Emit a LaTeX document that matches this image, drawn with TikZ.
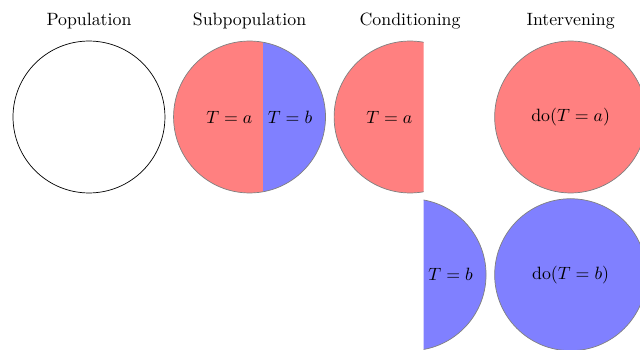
\documentclass[tikz,border=0pt]{standalone}
\usetikzlibrary{positioning}
\usepackage{xcolor}
\definecolor{groupred}{RGB}{255,128,128}
\definecolor{groupblue}{RGB}{128,128,255}

\begin{document}
\begin{tikzpicture}[
  disc/.style={circle, minimum size=3cm, inner sep=0pt},
  title/.style={anchor=base}
]
  % Define dimensions
  \def\rad{1.5}    % circle radius
  \def\cut{0.267}  % offset of the split line from the centre

  % ---- Frame ----
  \useasboundingbox (-1.757,-4.581) rectangle (10.88,2.31);
  \clip (-1.757,-4.581) rectangle (10.88,2.31);

  % ---- Column titles ----
  \node[title] (poptitle) at (0,1.816) {Population};
  \node[title] (subtitle) at (3.17,1.816) {Subpopulation};
  \node[title] (condtitle) at (6.34,1.816) {Conditioning};
  \node[title] (inttitle) at (9.51,1.816) {Intervening};

  % ---- Population ----
  \node[disc, draw=black] (pop) at (0,0) {};

  % ---- Subpopulation (split disc) ----
  \begin{scope}
    \clip (3.17-\rad-0.1,-\rad-0.1) rectangle (3.17+\cut,\rad+0.1);
    \fill[groupred] (3.17,0) circle (\rad);
  \end{scope}
  \begin{scope}
    \clip (3.17+\cut,-\rad-0.1) rectangle (3.17+\rad+0.1,\rad+0.1);
    \fill[groupblue] (3.17,0) circle (\rad);
  \end{scope}
  \node[disc, draw=gray] (sub) at (3.17,0) {};
  \node (suba) at (sub) [xshift=-0.40cm] {$T=a$};
  \node (subb) at (sub) [xshift=0.80cm] {$T=b$};

  % ---- Conditioning (the two parts pulled apart) ----
  \begin{scope}
    \clip (6.34-\rad-0.1,-\rad-0.1) rectangle (6.34+\cut,\rad+0.1);
    \filldraw[fill=groupred, draw=gray] (6.34,0) circle (\rad);
  \end{scope}
  \coordinate (conda) at (6.34,0);
  \node (condalabel) at (conda) [xshift=-0.41cm] {$T=a$};

  \begin{scope}
    \clip (6.34+\cut,-3.114-\rad-0.1) rectangle (6.34+\rad+0.1,-3.114+\rad+0.1);
    \filldraw[fill=groupblue, draw=gray] (6.34,-3.114) circle (\rad);
  \end{scope}
  \coordinate (condb) at (6.34,-3.114);
  \node (condblabel) at (condb) [xshift=0.80cm] {$T=b$};

  % ---- Intervening ----
  \node[disc, draw=gray, fill=groupred] (doa) at (9.51,0) {$\mathrm{do}(T=a)$};
  \node[disc, draw=gray, fill=groupblue] (dob) at (9.51,-3.114) {$\mathrm{do}(T=b)$};

\end{tikzpicture}
\end{document}
